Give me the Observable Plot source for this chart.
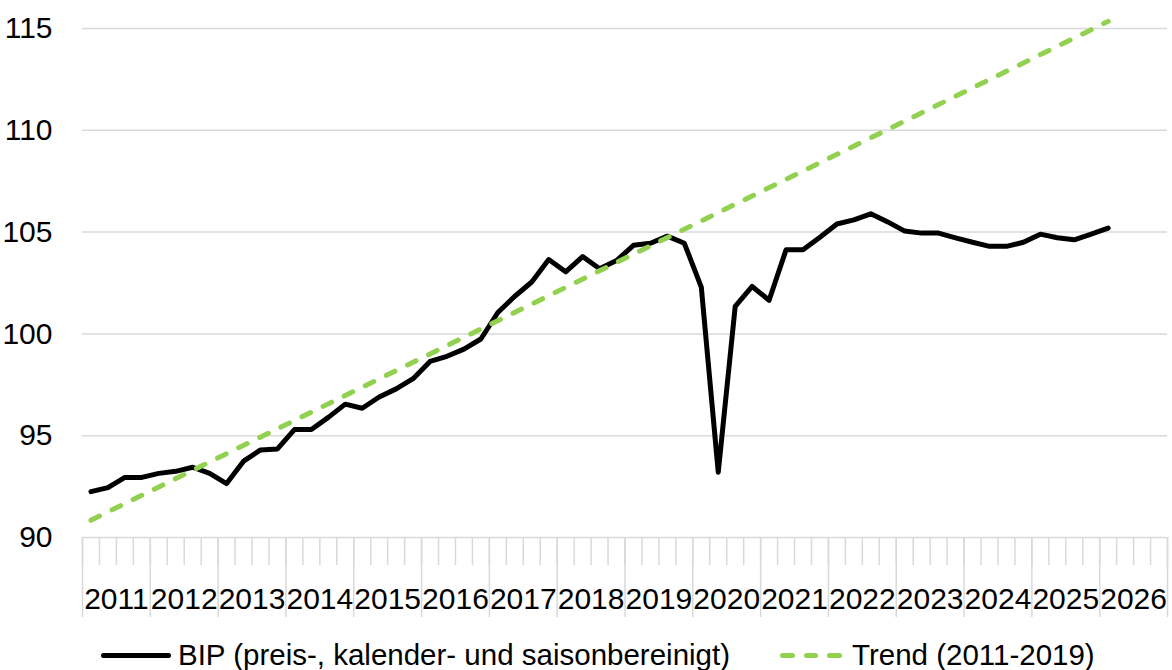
<!DOCTYPE html>
<html>
<head>
<meta charset="utf-8">
<script src="https://cdn.jsdelivr.net/npm/d3@7"></script>
<script src="https://cdn.jsdelivr.net/npm/@observablehq/plot@0.6"></script>
<style>
  html, body { margin: 0; padding: 0; background: #fff; }
  body { width: 1172px; height: 670px; overflow: hidden; font-family: "Liberation Sans", Arial, sans-serif; }
  #legend { position: relative; width: 1172px; height: 45px; font-size: 29.5px; color: #000; }
  #legend .txt { position: absolute; top: 12px; line-height: 36px; white-space: nowrap; }
  #legend .sw { position: absolute; height: 5px; border-radius: 2.5px; }
</style>
</head>
<body>
<div id="chart"></div>
<div id="legend"></div>
<script>
// ---- data ----
const years = [2011, 2012, 2013, 2014, 2015, 2016, 2017, 2018, 2019, 2020, 2021, 2022, 2023, 2024, 2025, 2026];
const quarterNames = ["Q1", "Q2", "Q3", "Q4"];
const yTicks = [90, 95, 100, 105, 110, 115];

// BIP (preis-, kalender- und saisonbereinigt), quarterly from 2011 Q1
const bipValues = [
  92.25, 92.45, 92.95, 92.95,
  93.15, 93.25, 93.45, 93.15,
  92.65, 93.75, 94.3, 94.35,
  95.3, 95.3, 95.9, 96.55,
  96.35, 96.9, 97.3, 97.8,
  98.65, 98.9, 99.25, 99.75,
  101.05, 101.85, 102.55, 103.65,
  103.05, 103.8, 103.2, 103.6,
  104.35, 104.45, 104.8, 104.45,
  102.3, 93.2, 101.35, 102.33,
  101.65, 104.13, 104.13, 104.75,
  105.4, 105.6, 105.9, 105.5,
  105.05, 104.95, 104.95, 104.72,
  104.5, 104.3, 104.3, 104.5,
  104.9, 104.72, 104.62, 104.9,
  105.2
];

// Trend (2011-2019): straight line, endpoints
const trendQuarters = ["2011 Q1", "2026 Q1"];
const trendValues = [90.85, 115.35];

const legendLabels = ["BIP (preis-, kalender- und saisonbereinigt)", "Trend (2011-2019)"];

// ---- build tables ----
const quarters = years.flatMap(y => quarterNames.map(q => `${y} ${q}`));
const qPos = label => {
  const [y, q] = label.split(" ");
  return +y + (quarterNames.indexOf(q) + 0.5) / 4;
};
const bip = bipValues.map((v, i) => ({q: quarters[i], t: qPos(quarters[i]), v}));
const trend = trendValues.map((v, i) => ({q: trendQuarters[i], t: qPos(trendQuarters[i]), v}));

const firstYear = years[0], lastYear = years[years.length - 1] + 1;
const yearBounds = d3.range(firstYear, lastYear + 1);
const quarterBounds = d3.range(0, (lastYear - firstYear) * 4 + 1).map(k => firstYear + k / 4);
const yearCenters = years.map(y => y + 0.5);

const grid = "#d9d9d9";
const chart = Plot.plot({
  width: 1172,
  height: 625,
  marginLeft: 82,
  marginRight: 5,
  marginTop: 28,
  marginBottom: 88,
  style: {fontFamily: "'Liberation Sans', Arial, sans-serif", fontSize: "30px", color: "#000", background: "#fff"},
  x: {type: "linear", domain: [firstYear, lastYear], axis: null},
  y: {domain: [90, 115], axis: null},
  marks: [
    Plot.gridY(yTicks.slice(1), {stroke: grid, strokeOpacity: 1, strokeWidth: 1.5}),
    Plot.ruleY([yTicks[0]], {stroke: grid, strokeWidth: 1.5}),
    Plot.axisY({ticks: yTicks, tickSize: 0, tickPadding: 30, fontSize: 30, fill: "#000", label: null, tickFormat: d => d}),
    Plot.axisX({ticks: quarterBounds, tickSize: 28, fill: "none", stroke: grid, strokeWidth: 1.5, strokeOpacity: 1, label: null}),
    Plot.axisX({ticks: yearBounds, tickSize: 80, fill: "none", stroke: grid, strokeWidth: 1.5, strokeOpacity: 1, label: null}),
    Plot.axisX({ticks: yearCenters, tickSize: 0, tickPadding: 50, stroke: "none", fill: "#000", fontSize: 30, label: null, tickFormat: d => String(Math.floor(d))}),
    Plot.line(bip, {x: "t", y: "v", stroke: "#000", strokeWidth: 5, strokeLinejoin: "round", strokeLinecap: "round"}),
    Plot.line(trend, {x: "t", y: "v", stroke: "#92d050", strokeWidth: 5, strokeDasharray: "9.5,14", strokeLinecap: "round"})
  ]
});
document.getElementById("chart").appendChild(chart);

// ---- legend ----
const legend = document.getElementById("legend");
const sw1 = document.createElement("div");
sw1.className = "sw";
Object.assign(sw1.style, {left: "101px", width: "70px", top: "28px", background: "#000"});
legend.appendChild(sw1);
const t1 = document.createElement("div");
t1.className = "txt"; t1.style.left = "178px"; t1.textContent = legendLabels[0];
legend.appendChild(t1);
[0, 1, 2].forEach(k => {
  const d = document.createElement("div");
  d.className = "sw";
  Object.assign(d.style, {left: (780 + k * 23.5) + "px", width: "14.5px", top: "28px", background: "#92d050"});
  legend.appendChild(d);
});
const t2 = document.createElement("div");
t2.className = "txt"; t2.style.left = "852px"; t2.textContent = legendLabels[1];
legend.appendChild(t2);
</script>
</body>
</html>
